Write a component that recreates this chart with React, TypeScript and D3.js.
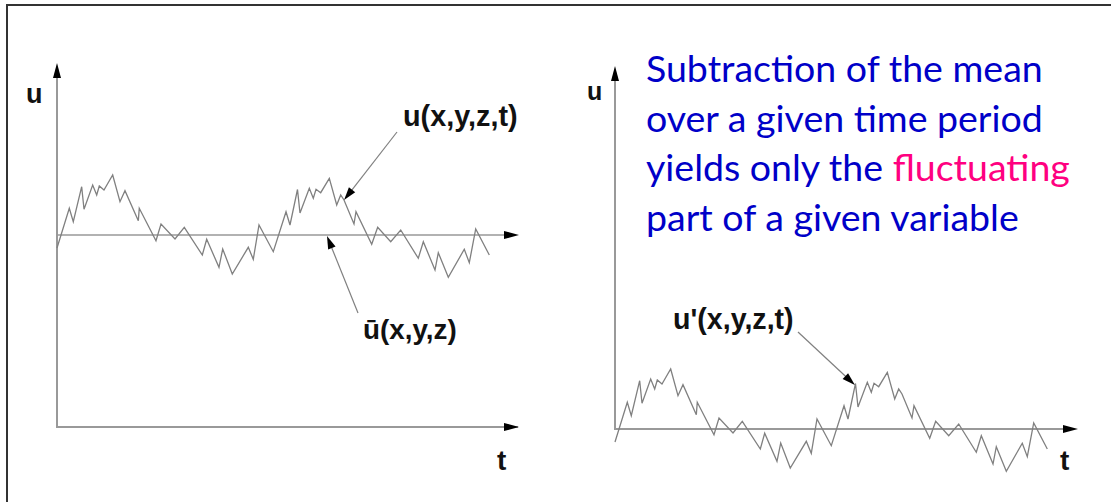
import React from 'react';
import * as d3 from 'd3';

// time samples (arbitrary units, 0..100) and the fluctuating part u' at each sample
const tValues = [0, 2.84, 3.76, 5.7, 6.24, 8.24, 9.17, 9.77, 10.85, 12.86, 14.55, 15.7, 18.78, 19.0, 22.86, 24.02, 27.25, 29.4, 33.56, 34.57, 37.41, 38.27, 40.48, 44.18, 45.33, 46.65, 49.95, 52.89, 53.81, 55.54, 56.12, 58.27, 59.19, 59.82, 60.9, 62.89, 64.6, 65.52, 66.28, 68.59, 69.05, 72.68, 74.06, 77.07, 79.38, 83.44, 84.6, 87.3, 88.06, 90.37, 94.06, 95.22, 96.7, 99.84];
const uPrime = [-1.3, 2.67, 1.33, 4.83, 2.57, 5.0, 4.0, 4.9, 4.5, 6.0, 3.33, 4.43, 1.43, 2.67, -0.57, 1.1, -0.4, 0.77, -2.0, -0.43, -3.23, -1.4, -3.9, -1.23, -2.43, 1.0, -1.67, 2.33, 1.0, 4.55, 2.2, 4.67, 3.67, 4.57, 4.23, 5.67, 3.0, 4.0, 3.5, 1.1, 2.33, -0.93, 0.77, -0.67, 0.5, -2.33, -0.67, -3.5, -1.77, -4.23, -1.43, -2.77, 0.6, -2.0];
const uMean = 19.2; // time-averaged value ū
const tDomain = [0, 100];

const leftLabels = { axisY: 'u', axisX: 't', signal: 'u(x,y,z,t)', mean: 'ū(x,y,z)' };
const rightLabels = { axisY: 'u', axisX: 't', signal: "u'(x,y,z,t)" };
const textLines = [
  [{ s: 'Subtraction of the mean', c: 'blue' }],
  [{ s: 'over a given time period', c: 'blue' }],
  [{ s: 'yields only the ', c: 'blue' }, { s: 'fluctuating', c: 'pink' }],
  [{ s: 'part of a given variable', c: 'blue' }],
];

const BLUE = '#0000C8';
const PINK = '#FF0080';
const AXIS = '#999';
const SIG = '#808080';
const LABEL_FONT = "'Liberation Sans', Arial, sans-serif";

function arrowHead(x1: number, y1: number, x2: number, y2: number, L = 15, w = 4) {
  const dx = x2 - x1, dy = y2 - y1;
  const len = Math.hypot(dx, dy);
  const ux = dx / len, uy = dy / len;
  const bx = x2 - ux * L, by = y2 - uy * L;
  const nx = -uy, ny = ux;
  return `M${x2},${y2}L${bx + nx * w},${by + ny * w}L${bx - nx * w},${by - ny * w}Z`;
}

function Arrow({ x1, y1, x2, y2, stroke = AXIS, sw = 1.6, L = 15, w = 4 }: any) {
  const dx = x2 - x1, dy = y2 - y1;
  const len = Math.hypot(dx, dy);
  const ex = x2 - (dx / len) * (L - 2), ey = y2 - (dy / len) * (L - 2);
  return (
    <g>
      <line x1={x1} y1={y1} x2={ex} y2={ey} stroke={stroke} strokeWidth={sw} />
      <path d={arrowHead(x1, y1, x2, y2, L, w)} fill="#000" />
    </g>
  );
}

export default function App() {
  const data = tValues.map((t, i) => ({ t, v: uPrime[i] }));

  // Left panel: u = ū + u'
  const xL = d3.scaleLinear().domain(tDomain).range([57, 490]);
  const yL = d3.scaleLinear().domain([0, 10]).range([427, 327]);
  const lineL = d3.line<any>().x(d => xL(d.t)).y(d => yL(uMean + d.v));

  // Right panel: u' only
  const xR = d3.scaleLinear().domain(tDomain).range([615, 1048]);
  const yR = d3.scaleLinear().domain([0, 10]).range([429, 329]);
  const lineR = d3.line<any>().x(d => xR(d.t)).y(d => yR(d.v));

  const meanY = yL(uMean);

  return (
    <svg width={1111} height={502} style={{ position: 'absolute', left: 0, top: 0, background: '#fff' }}>
      <rect x={0} y={0} width={1111} height={502} fill="#fff" />
      {/* frame */}
      <line x1={7} y1={5} x2={1111} y2={5} stroke="#333" strokeWidth={2} />
      <line x1={7} y1={4} x2={7} y2={502} stroke="#333" strokeWidth={2} />

      {/* Left panel axes */}
      <line x1={xL(0)} y1={yL(0)} x2={518} y2={yL(0)} stroke={AXIS} strokeWidth={2} />
      <path d={arrowHead(xL(0), yL(0), 519, yL(0))} fill="#000" />
      <Arrow x1={xL(0)} y1={yL(0) + 1} x2={xL(0)} y2={63} sw={2} />
      <Arrow x1={xL(0)} y1={meanY} x2={519} y2={meanY} sw={1.6} />
      <path d={lineL(data) || ''} fill="none" stroke={SIG} strokeWidth={1.3} strokeLinejoin="miter" />
      <text x={26} y={103} fontFamily={LABEL_FONT} fontWeight="bold" fontSize={27} fill="#111">{leftLabels.axisY}</text>
      <text x={497} y={470} fontFamily={LABEL_FONT} fontWeight="bold" fontSize={28} fill="#111">{leftLabels.axisX}</text>
      <text x={403} y={126} fontFamily={LABEL_FONT} fontWeight="bold" fontSize={28.8} fill="#111">{leftLabels.signal}</text>
      <text x={363} y={339} fontFamily={LABEL_FONT} fontWeight="bold" fontSize={27.8} fill="#111">{leftLabels.mean}</text>
      <Arrow x1={397} y1={132} x2={xL(66.3)} y2={yL(uMean + 3.5)} stroke={SIG} sw={1.2} L={13} w={4} />
      <Arrow x1={358} y1={313} x2={327} y2={meanY + 1} stroke={SIG} sw={1.2} L={13} w={4} />

      {/* Right panel axes */}
      <Arrow x1={xR(0)} y1={yR(0) + 1} x2={xR(0)} y2={66} sw={2} />
      <Arrow x1={xR(0)} y1={yR(0)} x2={1078} y2={yR(0)} sw={2} />
      <path d={lineR(data) || ''} fill="none" stroke={SIG} strokeWidth={1.3} />
      <text x={587} y={100} fontFamily={LABEL_FONT} fontWeight="bold" fontSize={25} fill="#111">{rightLabels.axisY}</text>
      <text x={1060} y={470} fontFamily={LABEL_FONT} fontWeight="bold" fontSize={28} fill="#111">{rightLabels.axisX}</text>
      <text x={673} y={329} fontFamily={LABEL_FONT} fontWeight="bold" fontSize={28.6} fill="#111">{rightLabels.signal}</text>
      <Arrow x1={798} y1={332} x2={xR(55.4)} y2={yR(4.4)} stroke={SIG} sw={1.2} L={13} w={4} />

      {/* Explanatory text */}
      {textLines.map((parts, i) => (
        <text key={i} x={646} y={82 + i * 49.5} fontFamily="Lato, 'Open Sans', sans-serif" fontSize={37.5}>
          {parts.map((p, j) => (
            <tspan key={j} fill={p.c === 'pink' ? PINK : BLUE}>{p.s}</tspan>
          ))}
        </text>
      ))}
    </svg>
  );
}
